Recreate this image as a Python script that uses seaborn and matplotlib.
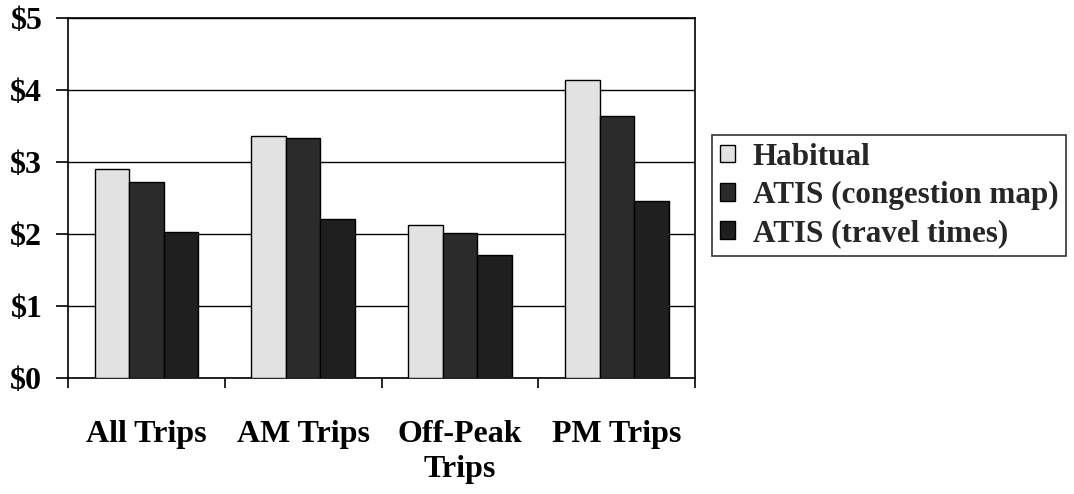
import pandas as pd
import matplotlib.pyplot as plt
import matplotlib.ticker as mticker
import seaborn as sns

# data
categories = ["All Trips", "AM Trips", "Off-Peak\nTrips", "PM Trips"]
series = ["Habitual", "ATIS (congestion map)", "ATIS (travel times)"]
habitual = [2.90, 3.36, 2.12, 4.14]
atis_map = [2.72, 3.33, 2.01, 3.63]
atis_times = [2.02, 2.21, 1.70, 2.45]

df = pd.DataFrame({
    "category": categories * 3,
    "series": [series[0]] * 4 + [series[1]] * 4 + [series[2]] * 4,
    "value": habitual + atis_map + atis_times,
})

sns.set_theme(style="white")
plt.rcParams["font.family"] = ["Liberation Serif", "DejaVu Serif"]
plt.rcParams["font.weight"] = "bold"

fig = plt.figure(figsize=(10.74, 4.94), dpi=100)
ax = fig.add_axes([0.0633, 0.235, 0.584, 0.729])

palette = ["#e2e2e2", "#2b2b2b", "#1f1f1f"]
sns.barplot(data=df, x="category", y="value", hue="series", order=categories,
            hue_order=series, palette=palette, width=0.66, saturation=1,
            edgecolor="black", linewidth=1.0, ax=ax, zorder=3)

ax.set_ylim(0, 5)
ax.set_xlim(-0.5, 3.5)
ax.yaxis.set_major_locator(mticker.MultipleLocator(1))
ax.yaxis.set_major_formatter(mticker.FuncFormatter(lambda v, p: f"${v:.0f}"))
ax.grid(axis="y", color="black", linewidth=1.0, zorder=0)
ax.set_axisbelow(True)
for s in ax.spines.values():
    s.set_color("black")
    s.set_linewidth(1.2)
    s.set_visible(True)

ax.set_xlabel("")
ax.set_ylabel("")
ax.tick_params(axis="y", left=True, direction="out", length=8.5, width=1.2,
               labelsize=23, pad=10, color="black")
ax.tick_params(axis="x", which="major", bottom=False, labelsize=23, pad=24)
ax.xaxis.set_minor_locator(mticker.FixedLocator([-0.5, 0.5, 1.5, 2.5, 3.5]))
ax.tick_params(axis="x", which="minor", bottom=True, direction="out",
               length=7, width=1.2, color="black")
for lbl in ax.get_xticklabels() + ax.get_yticklabels():
    lbl.set_fontweight("bold")
    lbl.set_color("black")
    lbl.set_linespacing(1.3)

handles, labels = ax.get_legend_handles_labels()
ax.legend_.remove()
leg = fig.legend(handles, labels, loc="upper left",
                 bbox_to_anchor=(0.663, 0.727), frameon=True, fancybox=False,
                 edgecolor="black", fontsize=22.4, handlelength=0.5,
                 handleheight=0.5, handletextpad=0.55, labelspacing=0.3,
                 borderpad=0.25, borderaxespad=0)
leg.get_frame().set_linewidth(1.2)
for t in leg.get_texts():
    t.set_fontweight("bold")

fig.savefig("out.png", dpi=100)
